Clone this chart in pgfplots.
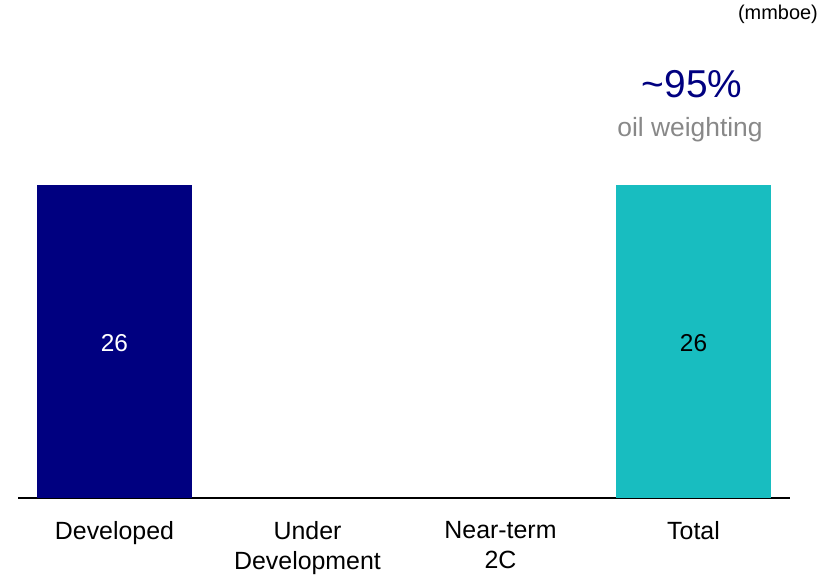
\documentclass[border=0pt]{standalone}
\usepackage{pgfplots}
\pgfplotsset{compat=1.18}
\usepackage{fontspec}
\setmainfont{Liberation Sans}
\definecolor{navy}{RGB}{0,0,128}
\definecolor{teal2}{RGB}{24,189,192}
\definecolor{greytxt}{RGB}{136,136,136}
\begin{document}
\begin{tikzpicture}
\path[use as bounding box] (-18bp,-79bp) rectangle (802bp,498bp);
\begin{axis}[
  scale only axis,
  width=772bp, height=498bp,
  xmin=-0.5, xmax=3.5, ymin=0, ymax=41.37,
  axis x line*=bottom,
  axis y line=none,
  axis line style={black, line width=1.2pt, -},
  xtick={0,1,2,3},
  xticklabels={Developed,{Under\\Development},{Near-term\\2C},Total},
  xticklabel style={align=center, anchor=north, inner sep=0pt, yshift=-23bp,
    font=\fontsize{25}{30}\selectfont},
  major tick length=0pt,
  ybar, bar width=0.8, bar shift=0pt,
  clip=false,
]
\addplot[fill=navy, draw=none] coordinates {(0,26)};
\addplot[fill=none, draw=none] coordinates {(1,0) (2,0)};
\addplot[fill=teal2, draw=none] coordinates {(3,26)};
\node[text=white, font=\fontsize{24.5}{28}\selectfont] at (axis cs:0,12.85) {26};
\node[text=black, font=\fontsize{24.5}{28}\selectfont] at (axis cs:3,12.85) {26};
\end{axis}
\node[anchor=base east, font=\fontsize{20}{22}\selectfont, inner sep=0pt] at (800bp,478bp) {(mmboe)};
\node[anchor=base, text=navy, font=\fontsize{39}{44}\selectfont, inner sep=0pt] at (674bp,400bp) {\textasciitilde95\%};
\node[anchor=base, text=greytxt, font=\fontsize{26.5}{30}\selectfont, inner sep=0pt] at (672bp,361bp) {oil weighting};
\end{tikzpicture}
\end{document}
